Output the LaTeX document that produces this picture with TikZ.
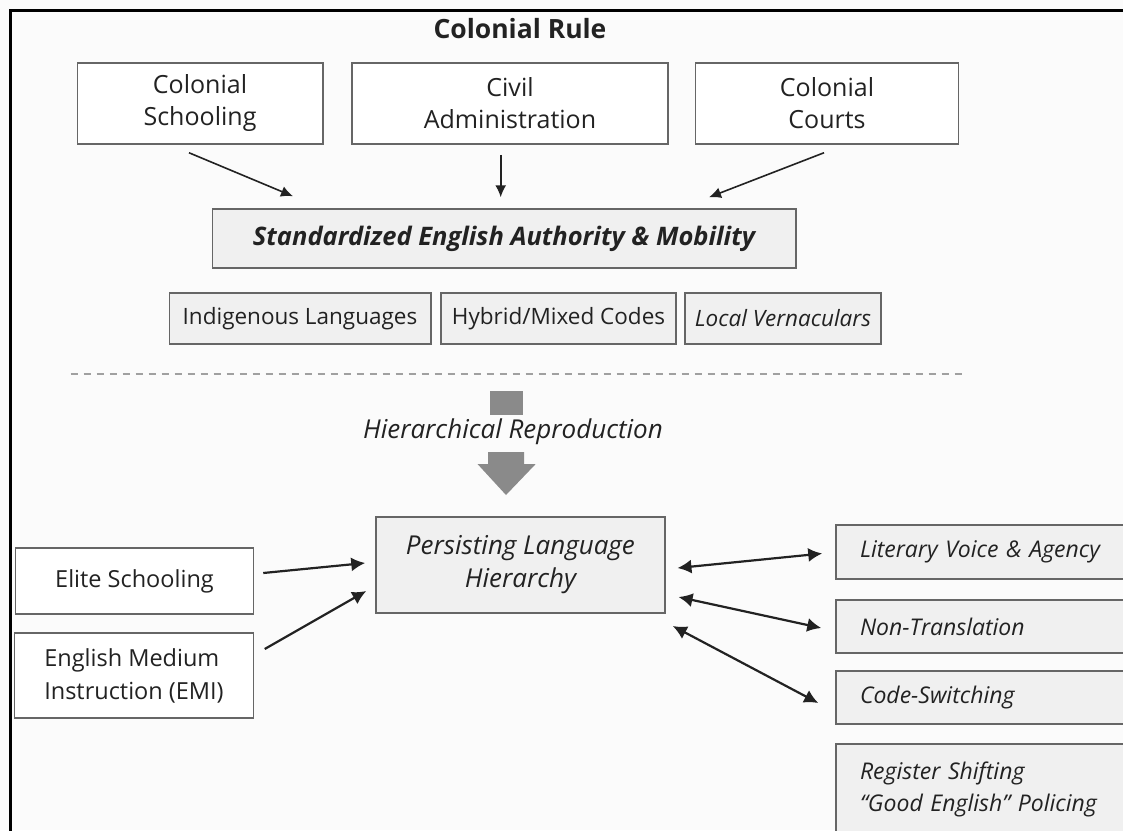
\documentclass[tikz,border=0pt]{standalone}
\usepackage{fontspec}
\setmainfont{Open Sans}
\usepackage{xcolor}
\definecolor{diagram-paper}{HTML}{FBFBFB}
\definecolor{diagram-fill}{HTML}{F0F0F0}
\definecolor{diagram-edge}{HTML}{666666}
\definecolor{diagram-dark}{HTML}{222222}
\definecolor{diagram-grey}{HTML}{8A8A8A}
\definecolor{diagram-dash}{HTML}{A0A0A0}
\usepackage{tikz}
\usetikzlibrary{arrows.meta,calc}

\tikzset{
    plainbox/.style={draw=diagram-edge, line width=1.5pt, fill=white, inner sep=0pt,
        align=center, text=diagram-dark, font=\fontsize{25}{32}\selectfont},
    greybox/.style={plainbox, fill=diagram-fill},
    leftbox/.style={greybox, align=left, inner xsep=24pt, text width=256pt,
        font=\fontsize{23}{32}\selectfont\itshape},
    link/.style={draw=diagram-dark, line width=1.6pt, -{Latex[length=12pt,width=11pt]}},
    heavylink/.style={draw=diagram-dark, line width=2.2pt, -{Latex[length=14pt,width=14pt]}},
    twoway/.style={heavylink, {Latex[length=14pt,width=14pt]}-{Latex[length=14pt,width=14pt]}}
}

\begin{document}
\begin{tikzpicture}[x=1pt, y=-1pt]

    % Page
    \useasboundingbox (0, 0) rectangle (1123, 830);
    \clip (0, 0) rectangle (1123, 830);
    \fill[diagram-paper] (0, 0) rectangle (1123, 830);
    \draw[line width=2.5pt] (10.7, 840) -- (10.7, 10.5) -- (1130, 10.5);

    % Colonial rule
    \node[anchor=base, text=diagram-dark, font=\fontsize{26.5}{32}\selectfont\bfseries] (rule) at (520, 38) {Colonial Rule};

    \node[plainbox, minimum width=245.5pt, minimum height=81pt] (schooling) at (200, 103.5) {Colonial\\Schooling};
    \node[plainbox, minimum width=316pt, minimum height=81pt] (admin) at (510, 103.5) {Civil\\Administration};
    \node[plainbox, minimum width=263pt, minimum height=81pt] (courts) at (827, 103.5) {Colonial\\Courts};

    \node[greybox, minimum width=583.5pt, minimum height=59pt, font=\fontsize{25.5}{32}\selectfont\bfseries\itshape] (authority) at (504, 238.5) {Standardized English Authority \& Mobility};

    \draw[link] ($(schooling.south)+(-11, 8)$) -- ($(authority.north)+(-211, -12)$);
    \draw[link] ($(admin.south)+(-9.3, 10)$) -- ($(authority.north)+(-3.3, -11)$);
    \draw[link] ($(courts.south)+(-3, 8)$) -- ($(authority.north)+(205, -11)$);

    % Other codes
    \node[greybox, minimum width=261.5pt, minimum height=51pt, font=\fontsize{22.5}{32}\selectfont] (indigenous) at (300, 318.5) {Indigenous Languages};
    \node[greybox, minimum width=235pt, minimum height=51pt, font=\fontsize{22.5}{32}\selectfont] (hybrid) at (558.5, 318.5) {Hybrid/Mixed Codes};
    \node[greybox, minimum width=196pt, minimum height=51pt, font=\fontsize{22.5}{32}\selectfont\itshape] (vernaculars) at (783, 318.5) {Local Vernaculars};

    % Divider
    \draw[diagram-dash, line width=1.5pt, dash pattern=on 7pt off 6pt] (70.7, 374) -- (965.7, 374);

    % Reproduction arrow
    \fill[diagram-grey] (490, 391) rectangle (523, 415);
    \node[text=diagram-dark, font=\fontsize{26}{32}\selectfont\itshape] (reproduction) at (513, 432) {Hierarchical Reproduction};
    \fill[diagram-grey] (488, 452) -- (524, 452) -- (524, 464) -- (535.7, 464) -- (506, 495) -- (477.5, 464) -- (488, 464) -- cycle;

    % Persisting hierarchy
    \node[greybox, minimum width=289pt, minimum height=96pt, font=\fontsize{26}{33}\selectfont\itshape] (hierarchy) at (520.5, 565) {Persisting Language\\Hierarchy};

    \node[plainbox, minimum width=238pt, minimum height=66pt, font=\fontsize{23.5}{32}\selectfont] (elite) at (134.5, 581) {Elite Schooling};
    \node[plainbox, align=left, minimum width=239pt, minimum height=85pt, font=\fontsize{23.5}{33}\selectfont] (emi) at (134, 675.5) {English Medium\\Instruction (EMI)};

    \draw[heavylink] ($(elite.east)+(9, -8)$) -- ($(hierarchy.west)+(-10, -2)$);
    \draw[heavylink] ($(emi.east)+(10.5, -26.5)$) -- ($(hierarchy.west)+(-9, 26)$);

    % Responses
    \node[leftbox, minimum height=54pt] (voice) at (988, 552) {Literary Voice \& Agency};
    \node[leftbox, minimum height=53pt] (nontranslation) at (988, 626.5) {Non-Translation};
    \node[leftbox, minimum height=53pt] (switching) at (988, 697.5) {Code-Switching};
    \node[leftbox, minimum height=90pt] (register) at (988, 789) {Register Shifting\\“Good English” Policing};

    \draw[twoway] ($(hierarchy.east)+(11.7, 3)$) -- ($(voice.west)+(-13, 1.5)$);
    \draw[twoway] ($(hierarchy.east)+(12.8, 32)$) -- ($(nontranslation.west)+(-14, 1.5)$);
    \draw[twoway] ($(hierarchy.east)+(7, 61)$) -- ($(switching.west)+(-17, 5.5)$);

\end{tikzpicture}
\end{document}
